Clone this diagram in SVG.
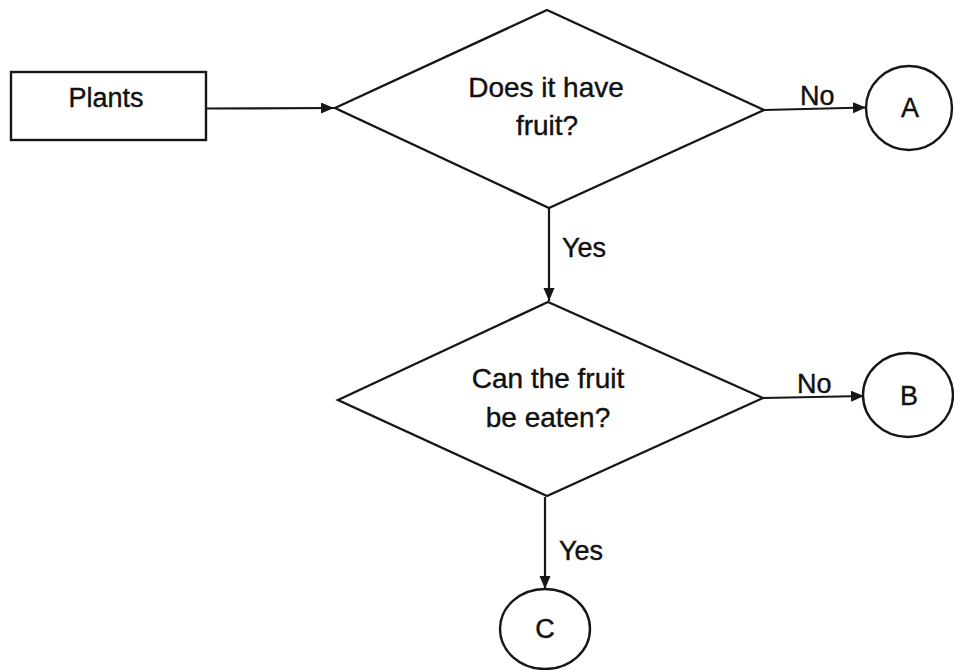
<svg xmlns="http://www.w3.org/2000/svg" width="954" height="670" viewBox="0 0 954 670">
<style>
.shape{fill:#fff;stroke:#161616;stroke-width:2.4}
.conn{fill:none;stroke:#161616;stroke-width:2.2}
.t{font-family:"Liberation Sans",Arial,sans-serif;font-size:27px;fill:#111;stroke:#111;stroke-width:0.4}
.q{font-family:"Liberation Sans",Arial,sans-serif;font-size:28px;fill:#111;stroke:#111;stroke-width:0.4;text-anchor:middle}
.c{text-anchor:middle}
</style>
<defs>
<marker id="arr" markerUnits="userSpaceOnUse" markerWidth="14" markerHeight="12" refX="13" refY="5.5" orient="auto">
<path d="M0,0 L13,5.5 L0,11 z" fill="#161616"/>
</marker>
</defs>
<rect width="954" height="670" fill="#fff"/>
<g id="connectors">
<path class="conn" d="M206,108.5 L334,108" marker-end="url(#arr)"/>
<path class="conn" d="M764,110 L866,107.5" marker-end="url(#arr)"/>
<path class="conn" d="M549,208 L549,301" marker-end="url(#arr)"/>
<path class="conn" d="M763,398 L864,396" marker-end="url(#arr)"/>
<path class="conn" d="M545,497 L545,589" marker-end="url(#arr)"/>
<text class="t" x="800" y="105">No</text>
<text class="t" x="562" y="257">Yes</text>
<text class="t" x="797" y="393">No</text>
<text class="t" x="559" y="560">Yes</text>
</g>
<g id="plants">
<rect class="shape" x="11" y="72" width="195" height="68"/>
<text class="t c" x="106" y="107">Plants</text>
</g>
<g id="q1">
<polygon class="shape" points="335,108 547,10 764,110 549,208"/>
<text class="q" x="546" y="97">Does it have</text>
<text class="q" x="547" y="135">fruit?</text>
</g>
<g id="q2">
<polygon class="shape" points="338,400 548,302 763,398 547,496"/>
<text class="q" x="548" y="388">Can the fruit</text>
<text class="q" x="548" y="427">be eaten?</text>
</g>
<g id="a">
<ellipse class="shape" cx="909" cy="108" rx="43" ry="42"/>
<text class="t c" x="910" y="117">A</text>
</g>
<g id="b">
<ellipse class="shape" cx="908" cy="395" rx="45" ry="42"/>
<text class="t c" x="909" y="405">B</text>
</g>
<g id="c">
<ellipse class="shape" cx="545" cy="629" rx="45" ry="40"/>
<text class="t c" x="545" y="638">C</text>
</g>
</svg>
